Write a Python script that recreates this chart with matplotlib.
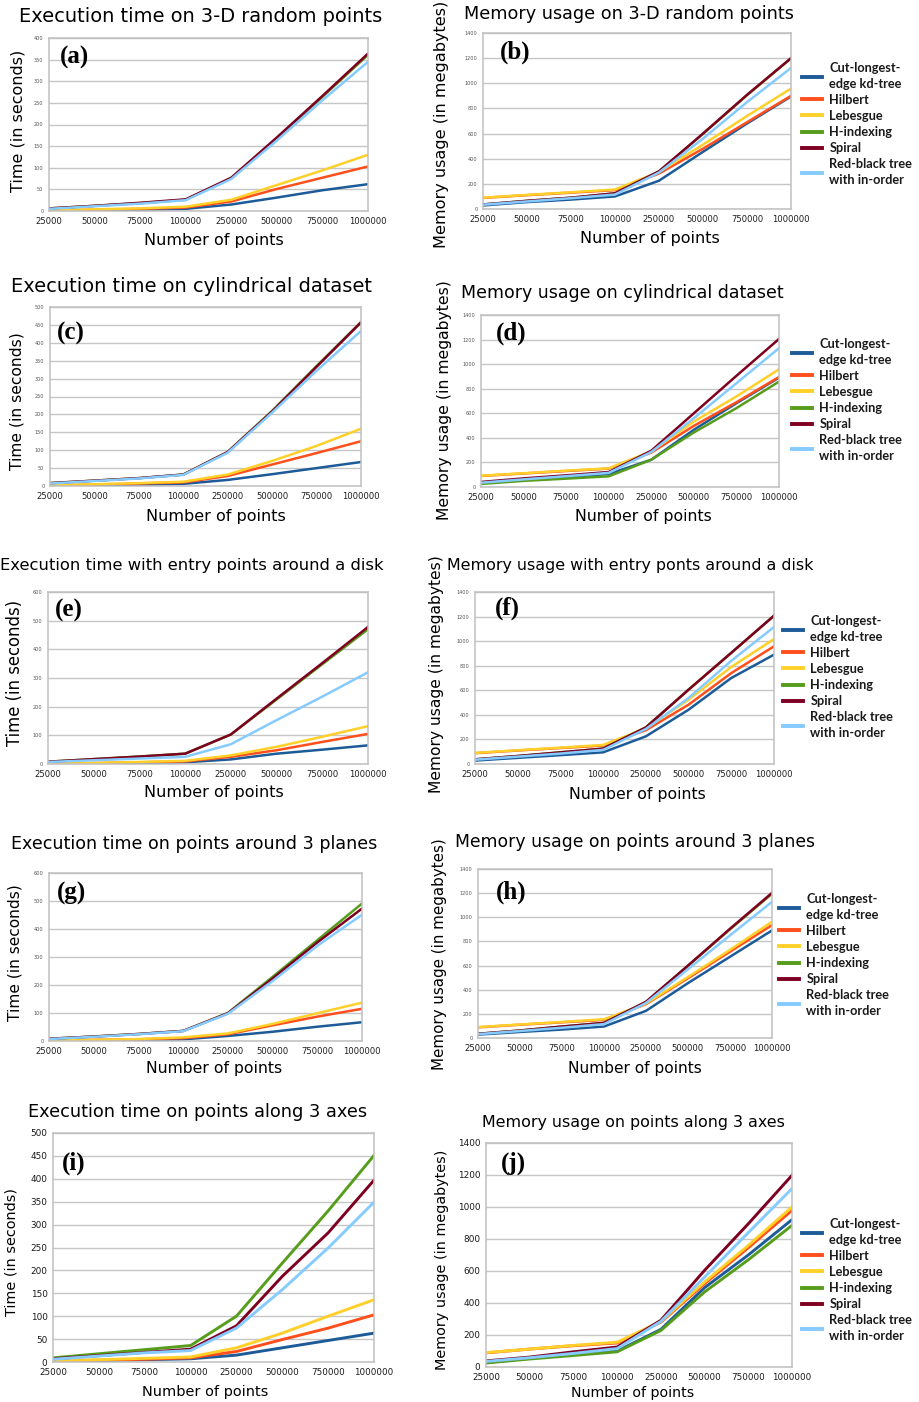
import matplotlib
matplotlib.use('Agg')
import matplotlib.pyplot as plt
import numpy as np

W, H = 920, 1402

points = ['25000', '50000', '75000', '100000', '250000', '500000', '750000', '1000000']
methods = ['Cut-longest-\nedge kd-tree', 'Hilbert', 'Lebesgue', 'H-indexing', 'Spiral',
           'Red-black tree\nwith in-order']
colors = ['#1d5b98', '#ff4f1c', '#ffd02a', '#579d1c', '#7e0021', '#86cbff']

# rows follow the order of methods, columns follow points
time_random = [
    [1, 2, 3, 5, 15, 31, 48, 62],
    [1, 3, 5, 8, 22, 51, 77, 103],
    [2, 4, 6, 10, 26, 60, 94, 130],
    [6, 12, 18, 26, 76, 168, 264, 361],
    [6, 12, 19, 27, 77, 170, 266, 364],
    [5, 11, 17, 25, 74, 163, 256, 345],
]
mem_random = [
    [28, 55, 75, 100, 225, 455, 680, 895],
    [88, 110, 130, 150, 282, 480, 690, 900],
    [90, 112, 133, 155, 295, 512, 740, 958],
    [36, 65, 90, 124, 298, 598, 905, 1198],
    [36, 65, 90, 125, 300, 600, 908, 1200],
    [34, 60, 86, 115, 290, 560, 850, 1122],
]
time_cyl = [
    [1, 2, 4, 6, 17, 33, 50, 67],
    [2, 4, 7, 10, 28, 60, 92, 125],
    [2, 5, 8, 12, 32, 70, 112, 160],
    [8, 15, 22, 32, 95, 210, 335, 458],
    [8, 15, 22, 32, 95, 208, 333, 457],
    [7, 14, 21, 31, 93, 205, 322, 433],
]
mem_cyl = [
    [32, 55, 80, 106, 222, 466, 682, 890],
    [90, 110, 130, 150, 280, 498, 690, 895],
    [92, 112, 133, 152, 290, 533, 737, 958],
    [25, 50, 68, 87, 222, 444, 642, 858],
    [41, 70, 95, 122, 295, 600, 905, 1205],
    [35, 62, 88, 115, 285, 560, 845, 1130],
]
time_disk = [
    [1, 2, 4, 6, 16, 36, 50, 65],
    [1, 3, 6, 9, 25, 48, 77, 105],
    [1, 4, 7, 11, 30, 60, 95, 132],
    [8, 17, 26, 36, 103, 225, 348, 470],
    [8, 17, 26, 36, 103, 228, 352, 478],
    [7, 13, 19, 25, 69, 153, 235, 320],
]
mem_disk = [
    [28, 50, 72, 95, 225, 442, 700, 890],
    [88, 110, 130, 150, 275, 483, 740, 958],
    [90, 112, 133, 155, 290, 524, 790, 1017],
    [38, 65, 95, 125, 298, 605, 905, 1207],
    [38, 65, 95, 125, 298, 605, 905, 1207],
    [35, 60, 85, 115, 285, 537, 840, 1115],
]
time_planes = [
    [1, 2, 4, 6, 18, 33, 51, 67],
    [2, 4, 6, 10, 24, 56, 87, 115],
    [2, 4, 7, 13, 27, 61, 99, 137],
    [8, 16, 25, 36, 100, 229, 360, 491],
    [8, 16, 25, 36, 99, 223, 352, 473],
    [7, 15, 24, 35, 97, 214, 340, 451],
]
mem_planes = [
    [28, 50, 70, 95, 225, 455, 673, 891],
    [88, 110, 130, 150, 280, 495, 715, 935],
    [90, 112, 133, 155, 285, 505, 730, 963],
    [35, 62, 95, 125, 298, 598, 900, 1195],
    [35, 62, 95, 125, 300, 600, 905, 1202],
    [32, 58, 85, 115, 290, 570, 850, 1128],
]
time_axes = [
    [1, 3, 5, 7, 15, 31, 47, 63],
    [2, 4, 6, 9, 23, 49, 74, 103],
    [3, 5, 8, 11, 31, 63, 100, 136],
    [9, 18, 27, 36, 100, 216, 330, 451],
    [7, 14, 21, 28, 79, 187, 282, 397],
    [6, 13, 20, 25, 74, 158, 249, 349],
]
mem_axes = [
    [28, 55, 78, 100, 235, 496, 700, 921],
    [88, 112, 133, 150, 280, 521, 745, 979],
    [90, 112, 135, 155, 285, 531, 760, 1000],
    [25, 50, 72, 95, 228, 469, 670, 885],
    [38, 62, 95, 125, 292, 604, 895, 1198],
    [35, 58, 85, 115, 285, 562, 840, 1115],
]

TIME = 'Time (in seconds)'
MEM = 'Memory usage (in megabytes)'

# panel: data, title, label, ylim, step, axes box (l, t, r, b px), title (cx, cy, width),
# ylabel (x, cy, length), xlabel (cx, cy, width), tag (x, y), legend (x, cy) or None, big ticks
panels = [
    (time_random, 'Execution time on 3-D random points', '(a)', 400, 50, (49, 38, 368, 211),
     (201, 16, 362), (TIME, 18, 121, 142), (214, 240, 139), (60, 57), None, False),
    (mem_random, 'Memory usage on 3-D random points', '(b)', 1400, 200, (483, 33, 791, 209),
     (629, 14, 328), (MEM, 442, 124, 248), (650, 238, 139), (500, 52), (802, 124), False),
    (time_cyl, 'Execution time on cylindrical dataset', '(c)', 500, 50, (50, 307, 361, 486),
     (192, 287, 358), (TIME, 17, 401, 138), (216, 517, 139), (57, 333), None, False),
    (mem_cyl, 'Memory usage on cylindrical dataset', '(d)', 1400, 200, (481, 315, 779, 487),
     (622, 293, 321), (MEM, 445, 400, 240), (643, 516, 137), (496, 333), (792, 400), False),
    (time_disk, 'Execution time with entry points around a disk', '(e)', 600, 100, (48, 592, 368, 764),
     (192, 565, 380), (TIME, 15, 673, 147), (214, 793, 139), (55, 610), None, False),
    (mem_disk, 'Memory usage with entry ponts around a disk', '(f)', 1400, 200, (475, 592, 774, 764),
     (630, 565, 363), (MEM, 437, 674, 238), (637, 795, 137), (495, 608), (783, 677), False),
    (time_planes, 'Execution time on points around 3 planes', '(g)', 600, 100, (49, 873, 362, 1041),
     (194, 844, 362), (TIME, 15, 953, 137), (214, 1069, 136), (57, 893), None, False),
    (mem_planes, 'Memory usage on points around 3 planes', '(h)', 1400, 200, (478, 869, 772, 1038),
     (635, 842, 356), (MEM, 440, 954, 232), (635, 1069, 134), (496, 892), (779, 955), False),
    (time_axes, 'Execution time on points along 3 axes', '(i)', 500, 50, (53, 1133, 374, 1362),
     (198, 1112, 339), (TIME, 12, 1252, 128), (205, 1392, 126), (62, 1163), None, True),
    (mem_axes, 'Memory usage on points along 3 axes', '(j)', 1400, 200, (486, 1143, 792, 1367),
     (633, 1123, 300), (MEM, 442, 1260, 220), (633, 1393, 123), (501, 1163), (802, 1280), True),
]

fig = plt.figure(figsize=(W / 100, H / 100), dpi=100)
renderer = fig.canvas.get_renderer()


def fx(x):
    return x / W


def fy(y):
    return 1 - y / H


def fit(t, length, vertical=False):
    bb = t.get_window_extent(renderer)
    cur = bb.height if vertical else bb.width
    t.set_fontsize(t.get_fontsize() * length / cur)


x = np.arange(len(points))

for data, title, tag, ymax, step, box, tpos, ylab, xpos, tagpos, legpos, big in panels:
    l, t, r, b = box
    ax = fig.add_axes([fx(l), fy(b), (r - l) / W, (b - t) / H])
    for vals, c in zip(data, colors):
        ax.plot(x, vals, color=c, lw=2.1 if big else 1.8, solid_joinstyle='round')
    ax.set_xlim(0, len(points) - 1)
    ax.set_ylim(0, ymax)
    ax.set_yticks(np.arange(0, ymax + 1, step))
    ax.set_xticks(x)
    ax.set_xticklabels(points)
    ax.set_axisbelow(True)
    ax.grid(axis='y', color='#c6c6c6', lw=1.0)
    for sp in ax.spines.values():
        sp.set_color('#c0c0c0')
        sp.set_linewidth(1.1)
    ax.tick_params(axis='both', length=0)
    if big:
        ax.tick_params(axis='x', labelsize=6.3, labelcolor='#1a1a1a', pad=4)
        ax.tick_params(axis='y', labelsize=6.4, labelcolor='#1a1a1a', pad=4)
    else:
        ax.tick_params(axis='x', labelsize=6.1, labelcolor='#1f1f1f', pad=4)
        ax.tick_params(axis='y', labelsize=3.6, labelcolor='#555555', pad=4)

    tt = fig.text(fx(tpos[0]), fy(tpos[1]), title, ha='center', va='center', fontsize=12)
    fit(tt, tpos[2])
    yl = fig.text(fx(ylab[1]), fy(ylab[2]), ylab[0], ha='center', va='center',
                  rotation=90, fontsize=11)
    fit(yl, ylab[3], vertical=True)
    xl = fig.text(fx(xpos[0]), fy(xpos[1]), 'Number of points', ha='center', va='center', fontsize=11)
    fit(xl, xpos[2])
    fig.text(fx(tagpos[0]), fy(tagpos[1]), tag, ha='left', va='center',
             family='Liberation Serif', weight='bold', fontsize=18)

    if legpos is not None:
        handles = [plt.Line2D([], [], color=c, lw=2.8) for c in colors]
        leg = ax.legend(handles, methods, loc='center left',
                        bbox_to_anchor=(fx(legpos[0]), fy(legpos[1])),
                        bbox_transform=fig.transFigure, frameon=False,
                        borderpad=0, borderaxespad=0, handlelength=1.6,
                        handletextpad=0.55, labelspacing=0.32,
                        prop={'family': 'Lato', 'weight': 'bold', 'size': 9.2})
        for txt in leg.get_texts():
            txt.set_linespacing(1.36)
            txt.set_color('#1a1a1a')

fig.savefig('out.png', dpi=100)
